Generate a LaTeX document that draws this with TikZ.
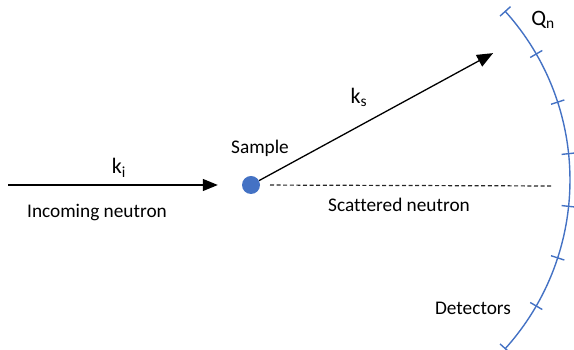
\documentclass[tikz,border=0pt]{standalone}
\usepackage{fontspec}
\setmainfont[Ligatures=NoCommon]{Carlito}
\usetikzlibrary{arrows.meta}
\definecolor{detblue}{HTML}{4472C4}
\begin{document}
\begin{tikzpicture}[x=1pt,y=1pt,
  lbl/.style={inner sep=0pt,font=\fontsize{19.3}{23}\selectfont},
  sym/.style={inner sep=0pt,font=\fontsize{22}{26}\selectfont},
  beam/.style={line width=1.3pt,-{Triangle[length=15pt,width=12pt]}},
  scat/.style={line width=1.2pt,dash pattern=on 4pt off 2.6pt,black!85},
  detline/.style={detblue,line width=1.4pt}]
  \useasboundingbox (0,0) rectangle (574,350);

  % sample and beam end points
  \node[circle,fill=detblue,minimum size=18pt,inner sep=0pt] (sample) at (251,165) {};
  \coordinate (src) at (8,165);
  \coordinate (ksend) at (508,305);
  \coordinate (dashend) at (553,164);
  \coordinate (arcc) at (318,170);

  % incoming and scattered wave vectors
  \draw[beam] (src) -- (sample) [shorten >=24pt];
  \draw[beam,shorten <=17pt,{Triangle[length=16pt,width=13pt]}-] (ksend) -- (sample);
  \draw[scat,shorten <=19pt] (sample.center) -- (dashend);

  % detector bank with tick marks
  \draw[detline] (arcc) ++(-42:252) arc[start angle=-42,end angle=42,radius=252];
  \foreach \a in {-42,-30,...,42}
    \draw[detline] (arcc) ++(\a:245) -- ++(\a:14);

  % labels
  \node[sym] (ki) at (119,182) {k\textsubscript{i}};
  \node[lbl] (inc) at (97,137) {Incoming neutron};
  \node[lbl] (samplelbl) at (260,202) {Sample};
  \node[sym] (ks) at (359,253) {k\textsubscript{s}};
  \node[lbl] (scatlbl) at (399,145) {Scattered neutron};
  \node[sym] (qn) at (543,330) {Q\textsubscript{n}};
  \node[lbl] (det) at (473,42) {Detectors};
\end{tikzpicture}
\end{document}
